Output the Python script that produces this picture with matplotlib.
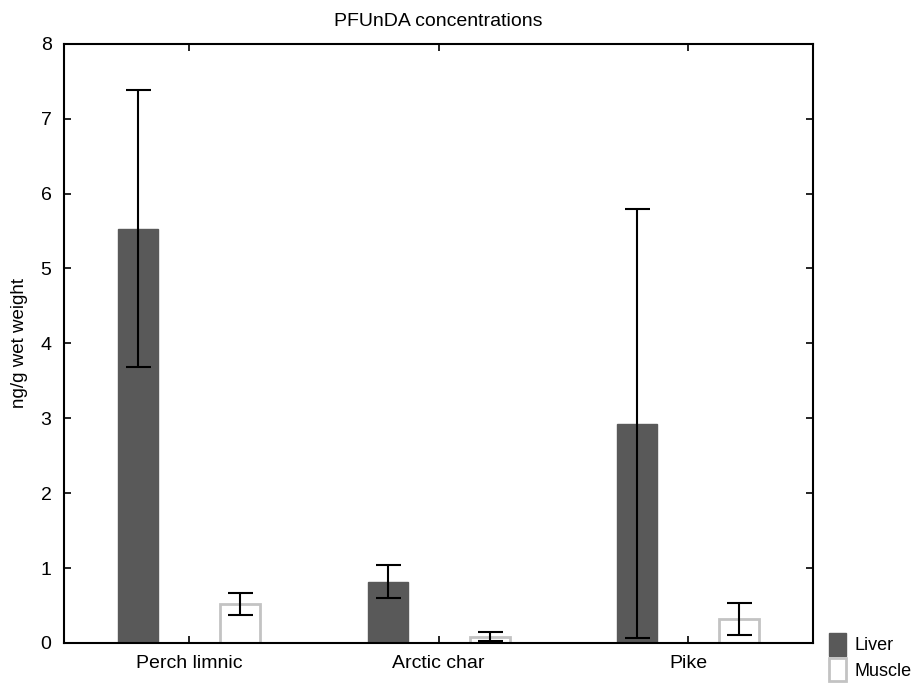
import matplotlib
matplotlib.use("Agg")
import matplotlib.pyplot as plt
import numpy as np

plt.rcParams['font.family'] = ['Liberation Sans', 'DejaVu Sans']

categories = ["Perch limnic", "Arctic char", "Pike"]
liver = [5.53, 0.82, 2.93]
liver_err = [1.85, 0.22, 2.87]
muscle = [0.52, 0.08, 0.32]
muscle_err = [0.15, 0.06, 0.22]

fig = plt.figure(figsize=(9.17, 6.84), dpi=100)
ax = fig.add_axes([0.0698, 0.0600, 0.817, 0.876])

x = np.arange(len(categories))
w = 0.16
off = 0.204
ax.bar(x - off, liver, w, color='#595959', edgecolor='#595959', label='Liver')
ax.bar(x + off, muscle, w, color='white', edgecolor='#c3c3c3', linewidth=2, label='Muscle')
ax.errorbar(x - off, liver, yerr=liver_err, fmt='none', ecolor='black', elinewidth=1.5, capsize=9, capthick=1.5)
ax.errorbar(x + off, muscle, yerr=muscle_err, fmt='none', ecolor='black', elinewidth=1.5, capsize=9, capthick=1.5)

ax.set_xlim(-0.5, 2.5)
ax.set_ylim(0, 8)
ax.set_xticks(x)
ax.set_xticklabels(categories, fontsize=14)
ax.set_yticks(range(9))
ax.tick_params(axis='y', labelsize=14, direction='in', right=True, length=5, width=1.2, pad=9)
ax.tick_params(axis='x', direction='in', top=True, length=5, width=1.2, pad=9)
for s in ax.spines.values():
    s.set_linewidth(1.5)

ax.set_ylabel("ng/g wet weight", fontsize=13.5, labelpad=9)
ax.set_title("PFUnDA concentrations", fontsize=14, pad=13)

fig.legend(loc='lower left', bbox_to_anchor=(0.896, -0.006), frameon=False,
           fontsize=13, handlelength=0.95, handleheight=1.55, handletextpad=0.45,
           labelspacing=0.15, borderaxespad=0)

fig.savefig("out.png", dpi=100)
